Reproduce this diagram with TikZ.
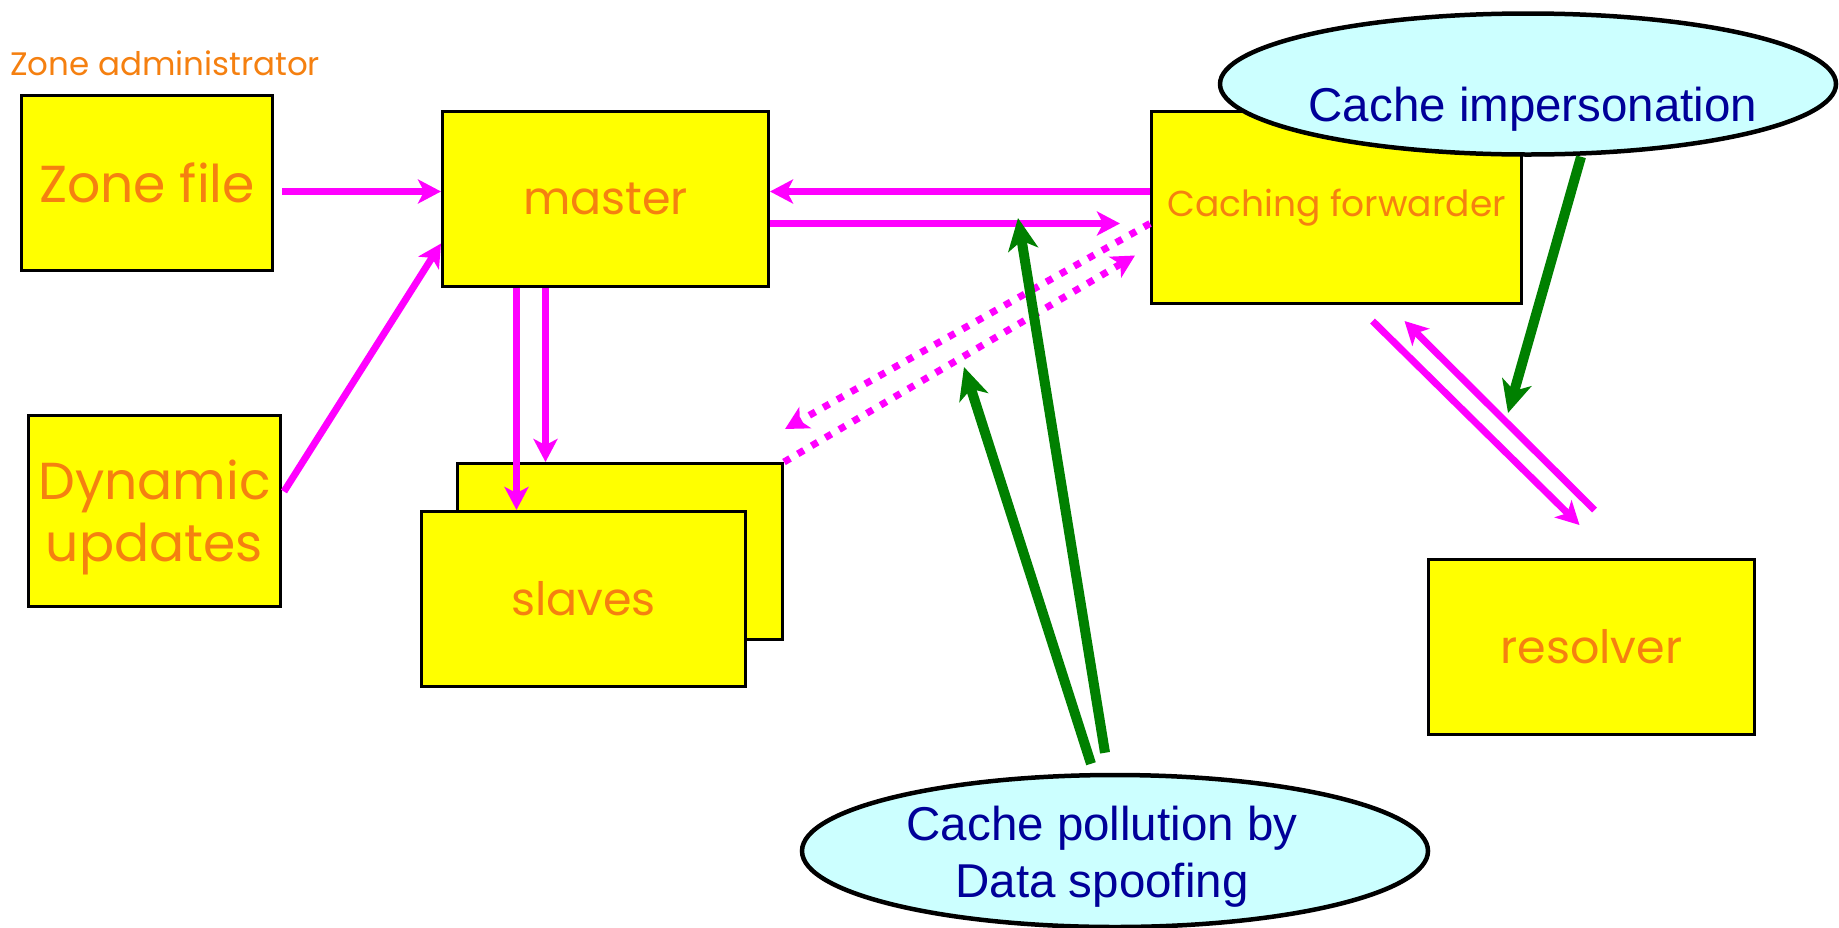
\documentclass[tikz,border=0pt]{standalone}
\usepackage{fontspec}
\usetikzlibrary{arrows.meta,shapes.geometric,calc}
\newfontfamily\boxfont{Poppins}
\newfontfamily\notefont{Liberation Sans}
\definecolor{boxyellow}{RGB}{255,255,0}
\definecolor{labelorange}{RGB}{245,128,16}
\definecolor{linkmagenta}{RGB}{255,0,255}
\definecolor{attackgreen}{RGB}{0,128,0}
\definecolor{notefill}{RGB}{204,255,255}
\definecolor{notetext}{RGB}{0,0,153}
\begin{document}
\begin{tikzpicture}[x=1pt,y=-1pt,
  server/.style={draw=black, line width=3pt, fill=boxyellow, anchor=north west,
    inner sep=0pt, text=labelorange, align=center,
    font=\boxfont\fontsize{46}{60}\selectfont},
  servertext/.style={text=labelorange, align=center, inner sep=0pt},
  threat/.style={ellipse, draw=black, line width=4.5pt, fill=notefill, inner sep=0pt},
  threattext/.style={text=notetext, align=center, inner sep=0pt,
    font=\notefont\fontsize{47.5}{57}\selectfont},
  link/.style={linkmagenta, line width=7pt, line cap=butt,
    -{Stealth[length=23pt,width=24pt,inset=6pt]}},
  query/.style={linkmagenta, line width=7pt, line cap=butt,
    dash pattern=on 7pt off 9pt,
    -{Stealth[length=23pt,width=24pt,inset=6pt]}},
  attack/.style={attackgreen, line width=10pt, line cap=butt,
    -{Stealth[length=32pt,width=30pt,inset=9pt]}},
]
\useasboundingbox (0,0) rectangle (1839,927);

% zone side
\node[servertext, anchor=base west,
  font=\boxfont\fontsize{32.5}{40}\selectfont] (admin) at (10,75) {Zone administrator};
\node[server, minimum width=251pt, minimum height=175pt,
  font=\boxfont\fontsize{52}{62}\selectfont] (zonefile) at (20,94) {Zone file};
\node[server, minimum width=252pt, minimum height=191pt] (dyn) at (27,414) {};
\node[servertext, font=\boxfont\fontsize{52}{62}\selectfont]
  (dyntext) at ([yshift=-6pt]dyn.center) {Dynamic\\updates};

% name servers
\node[server, minimum width=326pt, minimum height=175pt] (master) at (441,110) {master};
\node[server, minimum width=325pt, minimum height=176pt] (slaveB) at (456,462) {};
\node[server, minimum width=324pt, minimum height=175pt] (slaveF) at (420,510) {slaves};
\node[server, minimum width=370pt, minimum height=192pt,
  font=\boxfont\fontsize{36}{44}\selectfont] (fwd) at (1150,110) {Caching forwarder};
\node[server, minimum width=326pt, minimum height=175pt] (resolver) at (1427,558) {resolver};

% zone data flow
\draw[link] ([shift={(8,8.5)}]zonefile.east) -- ([shift={(0,-7.5)}]master.west);
\draw[link] ([shift={(2,-19.5)}]dyn.east) -- ([shift={(0,44.5)}]master.west);
\draw[link] ([shift={(-89,0)}]master.south) -- ([shift={(-67,0)}]slaveF.north);
\draw[link] ([shift={(-60,0)}]master.south) -- ([shift={(-74.5,0)}]slaveB.north);

% queries and answers
\draw[link] ([shift={(0,-16)}]fwd.west) -- ([shift={(0,-7.5)}]master.east);
\draw[link] ([shift={(0,24.5)}]master.east) -- ([shift={(-30,16)}]fwd.west);
\draw[query] ([shift={(0,16)}]fwd.west) -- ([shift={(1,-33)}]slaveB.north east);
\draw[query] (slaveB.north east) -- ([shift={(-15,48)}]fwd.west);
\draw[link] ([shift={(36,16)}]fwd.south) -- ([shift={(-12,-33)}]resolver.north);
\draw[link] ([shift={(3,-48)}]resolver.north) -- ([shift={(68,16)}]fwd.south);

% attacks
\node[threat, minimum width=616pt, minimum height=141pt] (imp) at (1528,84) {};
\node[threattext] (imptext) at (1533,109) {Cache impersonation};
\coordinate (imphit) at (1508,413);
\draw[attack] ([shift={(53,0)}]imp.south) -- (imphit);

\node[threat, minimum width=626pt, minimum height=152pt] (pol) at (1115,851) {};
\node[threattext] (poltext) at (1102,857) {Cache pollution by\\Data spoofing};
\coordinate (polhitA) at (1018,218);
\coordinate (polhitB) at (964,367);
\draw[attack] ([shift={(-10,-20)}]pol.north) -- (polhitA);
\draw[attack] ([shift={(-24,-9)}]pol.north) -- (polhitB);
\end{tikzpicture}
\end{document}
